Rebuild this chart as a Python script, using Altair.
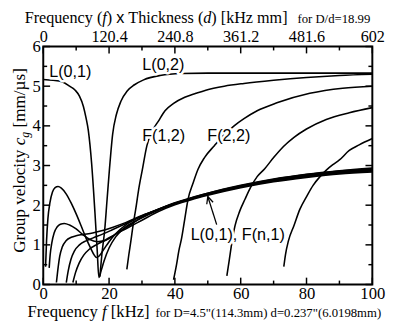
import math
import altair as alt
import pandas as pd

SERIF = "Liberation Serif"
SANS = "Liberation Sans"

# ---------------- data ----------------
# frequency [kHz] / group velocity [mm/us]
L01_f = [0, 3, 5.7, 8, 9.7, 11, 12.2, 13, 13.7, 14.7, 15.7, 16.4, 16.9, 17.6, 18.5, 20, 22, 25,
         30, 35, 40, 45, 50, 60, 70, 80, 90, 100]
L01_v = [5.17, 5.15, 5.11, 5.0, 4.9, 4.75, 4.49, 4.2, 3.88, 3.05, 1.82, 0.85, 0.18, 0.35, 0.6, 0.92, 1.2, 1.45,
         1.68, 1.88, 2.05, 2.18, 2.3, 2.5, 2.66, 2.78, 2.87, 2.94]

F11_f = [0.7, 1.0, 1.4, 2.0, 2.8, 3.6, 4.5, 5.5, 7, 8.5, 10, 11.5, 13, 14.5, 15.5, 16.2, 17, 18.5, 20, 22, 25,
         30, 35, 40, 45, 50, 60, 70, 80, 90, 100]
F11_v = [0.45, 1.1, 1.65, 2.05, 2.33, 2.44, 2.47, 2.43, 2.28, 2.05, 1.78, 1.48, 1.17, 0.9, 0.74, 0.68, 0.72, 0.9, 1.08, 1.28, 1.5,
         1.72, 1.9, 2.06, 2.19, 2.3, 2.49, 2.65, 2.77, 2.86, 2.92]

F21_f = [1.8, 2.1, 2.6, 3.3, 4.2, 5.2, 6.4, 8, 10, 12, 14, 16.4, 18.5, 20, 23, 26.8,
         30, 35, 40, 45, 50, 60, 70, 80, 90, 100]
F21_v = [0.42, 0.75, 1.05, 1.3, 1.45, 1.52, 1.54, 1.5, 1.4, 1.26, 1.14, 1.08, 1.1, 1.16, 1.33, 1.52,
         1.7, 1.89, 2.04, 2.17, 2.28, 2.48, 2.63, 2.75, 2.84, 2.9]

F31_f = [4, 4.4, 5, 5.8, 7, 8.5, 10, 12, 15, 18, 21, 25,
         30, 35, 40, 45, 50, 60, 70, 80, 90, 100]
F31_v = [0.05, 0.35, 0.71, 0.95, 1.11, 1.19, 1.23, 1.26, 1.3, 1.36, 1.44, 1.56,
         1.74, 1.9, 2.05, 2.17, 2.28, 2.47, 2.62, 2.74, 2.83, 2.88]

F41_f = [7, 7.6, 8.4, 9.5, 11, 13, 15, 18, 21, 25,
         30, 35, 40, 45, 50, 60, 70, 80, 90, 100]
F41_v = [0.05, 0.35, 0.63, 0.85, 1.0, 1.1, 1.17, 1.27, 1.38, 1.53,
         1.73, 1.89, 2.03, 2.16, 2.27, 2.46, 2.61, 2.72, 2.81, 2.86]

F51_f = [9, 9.8, 10.9, 12.3, 14, 16.5, 19, 22, 25,
         30, 35, 40, 45, 50, 60, 70, 80, 90, 100]
F51_v = [0.05, 0.3, 0.54, 0.74, 0.89, 1.02, 1.13, 1.27, 1.4,
         1.62, 1.84, 2.01, 2.14, 2.25, 2.44, 2.59, 2.7, 2.79, 2.84]

L02_f = [17.2, 17.8, 18.7, 19.4, 20.1, 21.1, 22.2, 23.6, 25.5, 27.6, 30.5, 35.5, 42, 50, 60, 70, 80, 90, 100]
L02_v = [0.2, 0.75, 1.4, 2.15, 2.89, 3.8, 4.28, 4.62, 4.88, 5.03, 5.16, 5.27, 5.32, 5.33, 5.33, 5.33, 5.33, 5.33, 5.33]

F12_f = [25.4, 26, 26.6, 27.3, 28.1, 29, 30.1, 31.5, 33, 35, 37, 39.5, 43, 46.4, 49.4, 55, 61, 70, 80, 90, 100]
F12_v = [0.38, 0.75, 1.08, 1.5, 1.9, 2.4, 2.89, 3.5, 3.85, 4.12, 4.38, 4.56, 4.72, 4.82, 4.9, 5.0, 5.07, 5.15, 5.22, 5.27, 5.3]

F22_f = [39.6, 40.5, 41.2, 42, 43, 44, 45.5, 47, 49, 52, 55, 58, 61, 65, 71, 81, 91, 100]
F22_v = [0.12, 0.5, 0.85, 1.15, 1.65, 2.15, 2.55, 2.9, 3.2, 3.5, 3.78, 4.0, 4.18, 4.38, 4.58, 4.82, 4.95, 5.0]

F32_f = [55.8, 56.5, 57.3, 58.3, 59.7, 61.3, 63, 65, 67.3, 70, 73, 76.2, 80, 86, 93, 100]
F32_v = [0.22, 0.6, 1.05, 1.49, 1.85, 2.15, 2.45, 2.72, 2.92, 3.2, 3.48, 3.71, 3.92, 4.16, 4.33, 4.46]

F42_f = [73.1, 73.6, 74.5, 76.2, 78, 80.1, 82, 84.1, 86.1, 88, 90, 93, 96, 100]
F42_v = [0.45, 0.75, 1.1, 1.49, 1.9, 2.23, 2.5, 2.72, 2.89, 3.02, 3.14, 3.38, 3.52, 3.68]

curves = {
    "L01": (L01_f, L01_v), "F11": (F11_f, F11_v), "F21": (F21_f, F21_v),
    "F31": (F31_f, F31_v), "F41": (F41_f, F41_v), "F51": (F51_f, F51_v),
    "L02": (L02_f, L02_v), "F12": (F12_f, F12_v), "F22": (F22_f, F22_v),
    "F32": (F32_f, F32_v), "F42": (F42_f, F42_v),
}

x_major = [0, 20, 40, 60, 80, 100]
x_minor = [10, 30, 50, 70, 90]
y_major = [0, 1, 2, 3, 4, 5, 6]
y_minor = [0.5, 1.5, 2.5, 3.5, 4.5, 5.5]
fd_major = [0, 120.4, 240.8, 361.2, 481.6, 602]

mode_labels = ["L(0,1)", "L(0,2)", "F(1,2)", "F(2,2)", "L(0,1), F(n,1)"]
label_f = [8.2, 36.5, 36.6, 56.4, 59.1]
label_v = [5.35, 5.52, 3.75, 3.74, 1.25]

arrow_tip = [50.0, 2.22]
arrow_tail = [52.7, 1.51]

# ---------------- layout ----------------
W, H = 336, 243
PXF, PXV = W / 100.0, H / 6.0

rows = []
for name, (fs, vs) in curves.items():
    for i, (f, v) in enumerate(zip(fs, vs)):
        rows.append({"curve": name, "i": i, "f": f, "v": v})
cdf = pd.DataFrame(rows)

xscale = alt.Scale(domain=[0, 100], nice=False, zero=False)
yscale = alt.Scale(domain=[0, 6], nice=False, zero=False)
xaxis = alt.Axis(values=x_major, title=None, ticks=False, tickSize=0, domain=False, grid=False,
                 labelFont=SERIF, labelFontSize=17, labelColor="black", labelPadding=1,
                 labelFlush=False, labelOverlap=False)
yaxis = alt.Axis(values=y_major, title=None, ticks=False, tickSize=0, domain=False, grid=False,
                 labelFont=SERIF, labelFontSize=17, labelColor="black", labelPadding=3,
                 labelFlush=False, labelOverlap=False)


def X(field):
    return alt.X(field, type="quantitative", scale=xscale, axis=xaxis)


def Y(field):
    return alt.Y(field, type="quantitative", scale=yscale, axis=yaxis)


lines = alt.Chart(cdf).mark_line(color="black", strokeWidth=1.6, interpolate="monotone", clip=True).encode(
    x=X("f"), y=Y("v"), detail="curve:N", order="i:Q")


def xticks(vals, length, top):
    d = pd.DataFrame({"t": vals})
    if top:
        enc = dict(y=alt.value(0), y2=alt.value(length))
    else:
        enc = dict(y=alt.value(H), y2=alt.value(H - length))
    return alt.Chart(d).mark_rule(color="black", strokeWidth=1.5).encode(x=X("t"), **enc)


def yticks(vals, length, right):
    d = pd.DataFrame({"t": vals})
    if right:
        enc = dict(x=alt.value(W), x2=alt.value(W - length))
    else:
        enc = dict(x=alt.value(0), x2=alt.value(length))
    return alt.Chart(d).mark_rule(color="black", strokeWidth=1.5).encode(y=Y("t"), **enc)


tick_layers = [
    xticks(x_major, 7, False), xticks(x_minor, 4, False), xticks(x_minor, 4, True),
    yticks(y_major, 7, False), yticks(y_minor, 4, False),
    yticks(y_major, 7, True), yticks(y_minor, 4, True),
]

ldf = pd.DataFrame({"t": mode_labels, "f": label_f, "v": label_v})
halo = alt.Chart(ldf).mark_text(font=SANS, fontSize=16.5, color="white", stroke="white", strokeWidth=5,
                                strokeJoin="round", align="center", baseline="middle").encode(
    x=X("f"), y=Y("v"), text="t:N")
labels = alt.Chart(ldf).mark_text(font=SANS, fontSize=16.5, color="black", align="center",
                                  baseline="middle").encode(x=X("f"), y=Y("v"), text="t:N")

dx = (arrow_tail[0] - arrow_tip[0]) * PXF
dy = (arrow_tail[1] - arrow_tip[1]) * PXV
ln = math.hypot(dx, dy)
ux, uy = dx / ln, dy / ln
head = []
for ang in (25, -25):
    a = math.radians(ang)
    rx = ux * math.cos(a) - uy * math.sin(a)
    ry = ux * math.sin(a) + uy * math.cos(a)
    head.append([arrow_tip[0] + 8 * rx / PXF, arrow_tip[1] + 8 * ry / PXV])
arows = [
    {"seg": "shaft", "i": 0, "f": arrow_tail[0], "v": arrow_tail[1]},
    {"seg": "shaft", "i": 1, "f": arrow_tip[0], "v": arrow_tip[1]},
    {"seg": "head", "i": 0, "f": head[0][0], "v": head[0][1]},
    {"seg": "head", "i": 1, "f": arrow_tip[0], "v": arrow_tip[1]},
    {"seg": "head", "i": 2, "f": head[1][0], "v": head[1][1]},
]
arrow = alt.Chart(pd.DataFrame(arows)).mark_line(color="black", strokeWidth=1.3).encode(
    x=X("f"), y=Y("v"), detail="seg:N", order="i:Q")

# ---------------- titles (composed text pieces) ----------------
TIMES = {' ': 250, '(': 333, ')': 333, '[': 333, ']': 333, '/': 278, '=': 564, '.': 250, '"': 408,
         'D': 722, 'F': 556, 'G': 722, 'H': 722, 'T': 611, 'a': 444, 'c': 444, 'd': 500, 'e': 444,
         'f': 333, 'g': 500, 'h': 500, 'i': 278, 'k': 500, 'l': 278, 'm': 778, 'n': 500, 'o': 500,
         'p': 500, 'q': 500, 'r': 333, 's': 389, 't': 278, 'u': 500, 'v': 500, 'x': 500, 'y': 500,
         'z': 444, 'µ': 500}


def tw(s, size, italic=False):
    tot = 0
    for ch in s:
        if ch.isdigit():
            tot += 500
        elif italic and ch == 'f':
            tot += 278
        else:
            tot += TIMES.get(ch, 500)
    return tot * size / 1000.0


DUMMY = pd.DataFrame({"k": [0]})


def txt(s, x, y, size, style="normal", font=SERIF, angle=0):
    return alt.Chart(DUMMY).mark_text(text=s, font=font, fontSize=size, fontStyle=style, align="left",
                                      baseline="alphabetic", angle=angle, color="black").encode(
        x=alt.value(x), y=alt.value(y))


def compose(pieces, x0, y0, rotated=False):
    out = []
    pos = 0.0
    for s, size, style, font, shift in pieces:
        w = tw(s, size, style == "italic")
        if s.strip():
            if rotated:
                out.append(txt(s, x0 + shift, y0 - pos, size, style, font, angle=270))
            else:
                out.append(txt(s, x0 + pos, y0 + shift, size, style, font))
        pos += w
    return out, pos


TS = 16.5
TOP_BASE = 19.5 - 44
top_pieces = [("Frequency", TS, "normal", SERIF, 0), (" ", TS, "normal", SERIF, 0),
              ("(", TS, "normal", SERIF, 0), ("f", TS, "italic", SERIF, 0), (")", TS, "normal", SERIF, 0),
              (" ", TS, "normal", SERIF, 0), ("x", TS, "normal", SANS, 0), (" ", TS, "normal", SERIF, 0),
              ("Thickness", TS, "normal", SERIF, 0), (" ", TS, "normal", SERIF, 0),
              ("(", TS, "normal", SERIF, 0), ("d", TS, "italic", SERIF, 0), (")", TS, "normal", SERIF, 0),
              (" ", TS, "normal", SERIF, 0), ("[kHz mm]", TS, "normal", SERIF, 0)]
top_t, top_w = compose(top_pieces, 25 - 44, TOP_BASE)
top_small = [txt("for D/d=18.99", 25 - 44 + top_w + 10, TOP_BASE, 13)]

BS = 17
BOT_BASE = 320 - 44
bot_pieces = [("Frequency", BS, "normal", SERIF, 0), (" ", BS, "normal", SERIF, 0),
              ("f", BS, "italic", SERIF, 0), (" ", BS, "normal", SERIF, 0),
              ("[kHz]", BS, "normal", SERIF, 0)]
bot_t, bot_w = compose(bot_pieces, 28 - 44, BOT_BASE)
bot_small = [txt('for D=4.5"(114.3mm) d=0.237"(6.0198mm)', 28 - 44 + bot_w + 6, BOT_BASE, 13)]

LS = 17.5
left_pieces = [("Group velocity", LS, "normal", SERIF, 0), (" ", LS, "normal", SERIF, 0),
               ("c", LS, "italic", SERIF, 0), ("g", 12, "italic", SERIF, 4),
               (" ", LS, "normal", SERIF, 0), ("[mm/µs]", LS, "normal", SERIF, 0)]
_, left_w = compose(left_pieces, 0, 0, rotated=True)
left_t, _ = compose(left_pieces, 25 - 44, (161 - 44) + left_w / 2, rotated=True)

inner = alt.layer(lines, *tick_layers, halo, labels, arrow, *top_t, *top_small, *bot_t, *bot_small, *left_t)

top_axis = alt.Axis(orient="top", values=fd_major,
                    labelExpr="datum.value % 1 == 0 ? format(datum.value, 'd') : format(datum.value, '.1f')",
                    title=None, ticks=False, tickSize=0,
                    domain=False, grid=False, labelFont=SERIF, labelFontSize=16.5, labelColor="black",
                    labelPadding=2, labelFlush=False, labelOverlap=False)
top_layer = alt.Chart(pd.DataFrame({"fd": fd_major})).mark_rule(color="black", strokeWidth=1.5).encode(
    x=alt.X("fd:Q", scale=alt.Scale(domain=[0, 602], nice=False, zero=False), axis=top_axis),
    y=alt.value(0), y2=alt.value(7))

chart = alt.layer(inner, top_layer).resolve_scale(x="independent").properties(
    width=W, height=H,
    autosize=alt.AutoSizeParams(type="none"),
    padding={"left": 36, "top": 36, "right": 16, "bottom": 38},
).configure_view(stroke="black", strokeWidth=2)

chart.save("out.html", embed_options={"renderer": "svg", "actions": False})
